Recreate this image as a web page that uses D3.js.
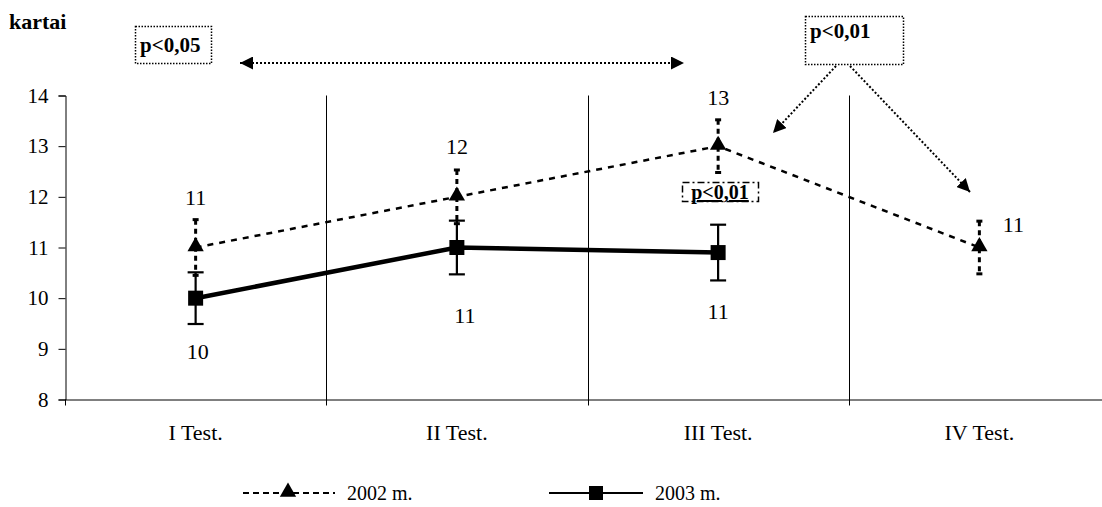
<!DOCTYPE html>
<html>
<head>
<meta charset="utf-8">
<script src="https://cdn.jsdelivr.net/npm/d3@7"></script>
<style>
  html, body { margin: 0; padding: 0; background: #fff; }
  svg { display: block; }
  text { font-family: "Liberation Serif", "Times New Roman", serif; fill: #000; }
</style>
</head>
<body>
<svg id="chart" width="1102" height="507"></svg>
<script>
// ---------- data ----------
const categories = ["I Test.", "II Test.", "III Test.", "IV Test."];
const yTicks = [8, 9, 10, 11, 12, 13, 14];
const series2002Name = "2002 m.";
const series2002 = [11, 12, 13, 11];
const series2002Err = [0.55, 0.53, 0.52, 0.52];
const series2003Name = "2003 m.";
const series2003 = [10, 11, 10.9];
const series2003Err = [0.51, 0.53, 0.55];
const yTitle = "kartai";
const pTexts = ["p<0,05", "p<0,01", "p<0,01"];

// ---------- layout ----------
const svg = d3.select("#chart");
const x = d3.scaleBand().domain(categories).range([65, 1110]).paddingInner(0).paddingOuter(0);
const y = d3.scaleLinear().domain([8, 14]).range([399.5, 95.5]);
const cx = c => x(c) + x.bandwidth() / 2;

// label offsets (layout only)
const lab2002 = [[0, -50], [0, -50], [0, -49], [34, -23]];
const lab2003 = [[2, 53], [8, 68], [0, 59]];

const defs = svg.append("defs");
defs.append("marker").attr("id", "ah").attr("viewBox", "0 0 10 10")
  .attr("refX", 10).attr("refY", 5).attr("markerWidth", 6.5).attr("markerHeight", 6.5)
  .attr("markerUnits", "strokeWidth").attr("orient", "auto-start-reverse")
  .append("path").attr("d", "M0,0 L10,5 L0,10 Z").attr("fill", "#000");

// vertical grid lines at category boundaries
const bounds = categories.slice(1).map(c => x(c));
svg.append("g").selectAll("line").data(bounds).join("line")
  .attr("x1", d => Math.round(d) + 0.5).attr("x2", d => Math.round(d) + 0.5)
  .attr("y1", y(14)).attr("y2", y(8) + 6)
  .attr("stroke", "#000").attr("stroke-width", 1);

// y axis
const yAxis = svg.append("g").attr("transform", "translate(65.5,0)")
  .call(d3.axisLeft(y).tickValues(yTicks).tickSize(7).tickPadding(10).tickFormat(d3.format("d")));
yAxis.attr("font-family", null);
yAxis.select(".domain").attr("stroke", "#000");
yAxis.selectAll(".tick line").attr("stroke", "#000");
yAxis.selectAll(".tick text").attr("font-size", 21).attr("fill", "#000");

// x axis
const xAxis = svg.append("g").attr("transform", `translate(0,${y(8)})`)
  .call(d3.axisBottom(x).tickSize(0).tickPadding(25));
xAxis.attr("font-family", null);
xAxis.select(".domain").attr("stroke", "#000");
xAxis.selectAll(".tick text").attr("font-size", 22).attr("fill", "#000");
svg.append("line").attr("x1", 65.5).attr("x2", 65.5).attr("y1", y(8)).attr("y2", y(8) + 6).attr("stroke", "#000");

// ---------- series 2002 (dashed, triangles) ----------
const g02 = svg.append("g");
const pts02 = series2002.map((v, i) => ({ c: categories[i], v, e: series2002Err[i], i }));
g02.append("path").datum(pts02)
  .attr("d", d3.line().x(d => cx(d.c)).y(d => y(d.v)))
  .attr("fill", "none").attr("stroke", "#000").attr("stroke-width", 2.5).attr("stroke-dasharray", "6,6");
g02.selectAll(".eb").data(pts02).join("line").attr("class", "eb")
  .attr("x1", d => cx(d.c)).attr("x2", d => cx(d.c))
  .attr("y1", d => y(d.v + d.e)).attr("y2", d => y(d.v - d.e))
  .attr("stroke", "#000").attr("stroke-width", 3).attr("stroke-dasharray", "5,4");
["capT", "capB"].forEach((k, j) => {
  g02.selectAll("." + k).data(pts02).join("line").attr("class", k)
    .attr("x1", d => cx(d.c) - 3).attr("x2", d => cx(d.c) + 3)
    .attr("y1", d => y(j ? d.v - d.e : d.v + d.e)).attr("y2", d => y(j ? d.v - d.e : d.v + d.e))
    .attr("stroke", "#000").attr("stroke-width", 3);
});
const tri = d3.symbol().type(d3.symbolTriangle).size(115);
g02.selectAll(".mk").data(pts02).join("path").attr("class", "mk")
  .attr("transform", d => `translate(${cx(d.c)},${y(d.v) - 1})`)
  .attr("d", tri).attr("fill", "#000");
g02.selectAll(".lb").data(pts02).join("text").attr("class", "lb")
  .attr("x", d => cx(d.c) + lab2002[d.i][0]).attr("y", d => y(d.v) + lab2002[d.i][1])
  .attr("text-anchor", "middle").attr("dominant-baseline", "central")
  .attr("font-size", 22).text(d => d3.format(".0f")(d.v));

// ---------- series 2003 (solid, squares) ----------
const g03 = svg.append("g");
const pts03 = series2003.map((v, i) => ({ c: categories[i], v, e: series2003Err[i], i }));
g03.append("path").datum(pts03)
  .attr("d", d3.line().x(d => cx(d.c)).y(d => y(d.v)))
  .attr("fill", "none").attr("stroke", "#000").attr("stroke-width", 4.5);
g03.selectAll(".eb").data(pts03).join("line").attr("class", "eb")
  .attr("x1", d => cx(d.c)).attr("x2", d => cx(d.c))
  .attr("y1", d => y(d.v + d.e)).attr("y2", d => y(d.v - d.e))
  .attr("stroke", "#000").attr("stroke-width", 2.2);
["capT", "capB"].forEach((k, j) => {
  g03.selectAll("." + k).data(pts03).join("line").attr("class", k)
    .attr("x1", d => cx(d.c) - 8).attr("x2", d => cx(d.c) + 8)
    .attr("y1", d => y(j ? d.v - d.e : d.v + d.e)).attr("y2", d => y(j ? d.v - d.e : d.v + d.e))
    .attr("stroke", "#000").attr("stroke-width", 2.2);
});
g03.selectAll(".mk").data(pts03).join("rect").attr("class", "mk")
  .attr("x", d => cx(d.c) - 7.5).attr("y", d => y(d.v) - 7.5)
  .attr("width", 15).attr("height", 15).attr("fill", "#000");
g03.selectAll(".lb").data(pts03).join("text").attr("class", "lb")
  .attr("x", d => cx(d.c) + lab2003[d.i][0]).attr("y", d => y(d.v) + lab2003[d.i][1])
  .attr("text-anchor", "middle").attr("dominant-baseline", "central")
  .attr("font-size", 22).text(d => d3.format(".0f")(d.v));

// ---------- annotations ----------
svg.append("text").attr("x", 9).attr("y", 29).attr("font-size", 22).attr("font-weight", "bold").text(yTitle);

svg.append("rect").attr("x", 135.5).attr("y", 26.5).attr("width", 76).attr("height", 37)
  .attr("fill", "none").attr("stroke", "#000").attr("stroke-width", 1.5).attr("stroke-dasharray", "1.5,1.5");
svg.append("text").attr("x", 140).attr("y", 52).attr("font-size", 21).attr("font-weight", "bold").text(pTexts[0]);
svg.append("line").attr("x1", 240).attr("x2", 684).attr("y1", 63).attr("y2", 63)
  .attr("stroke", "#000").attr("stroke-width", 2).attr("stroke-dasharray", "2,2")
  .attr("marker-start", "url(#ah)").attr("marker-end", "url(#ah)");

svg.append("rect").attr("x", 805.5).attr("y", 16.5).attr("width", 98).attr("height", 48)
  .attr("fill", "none").attr("stroke", "#000").attr("stroke-width", 1.5).attr("stroke-dasharray", "1.5,1.5");
svg.append("text").attr("x", 810).attr("y", 38).attr("font-size", 21).attr("font-weight", "bold").text(pTexts[1]);
svg.append("line").attr("x1", 836).attr("y1", 66).attr("x2", 773).attr("y2", 133)
  .attr("stroke", "#000").attr("stroke-width", 2).attr("stroke-dasharray", "2,2").attr("marker-end", "url(#ah)");
svg.append("line").attr("x1", 850).attr("y1", 66).attr("x2", 970).attr("y2", 192)
  .attr("stroke", "#000").attr("stroke-width", 2).attr("stroke-dasharray", "2,2").attr("marker-end", "url(#ah)");

svg.append("rect").attr("x", 682.5).attr("y", 182.5).attr("width", 76).attr("height", 19)
  .attr("fill", "none").attr("stroke", "#000").attr("stroke-width", 1.5).attr("stroke-dasharray", "7,3,2,3");
svg.append("text").attr("x", 720).attr("y", 199).attr("text-anchor", "middle")
  .attr("font-size", 20).attr("font-weight", "bold").attr("text-decoration", "underline").text(pTexts[2]);

// ---------- legend ----------
const lg = svg.append("g");
lg.append("line").attr("x1", 243).attr("x2", 335).attr("y1", 493).attr("y2", 493)
  .attr("stroke", "#000").attr("stroke-width", 2).attr("stroke-dasharray", "6,4");
lg.append("path").attr("transform", "translate(288,492)").attr("d", tri).attr("fill", "#000");
lg.append("text").attr("x", 347).attr("y", 493).attr("dominant-baseline", "central").attr("font-size", 20).text(series2002Name);
lg.append("line").attr("x1", 549).attr("x2", 643).attr("y1", 493).attr("y2", 493)
  .attr("stroke", "#000").attr("stroke-width", 2);
lg.append("rect").attr("x", 589).attr("y", 486).attr("width", 14).attr("height", 14).attr("fill", "#000");
lg.append("text").attr("x", 655).attr("y", 493).attr("dominant-baseline", "central").attr("font-size", 20).text(series2003Name);
</script>
</body>
</html>
